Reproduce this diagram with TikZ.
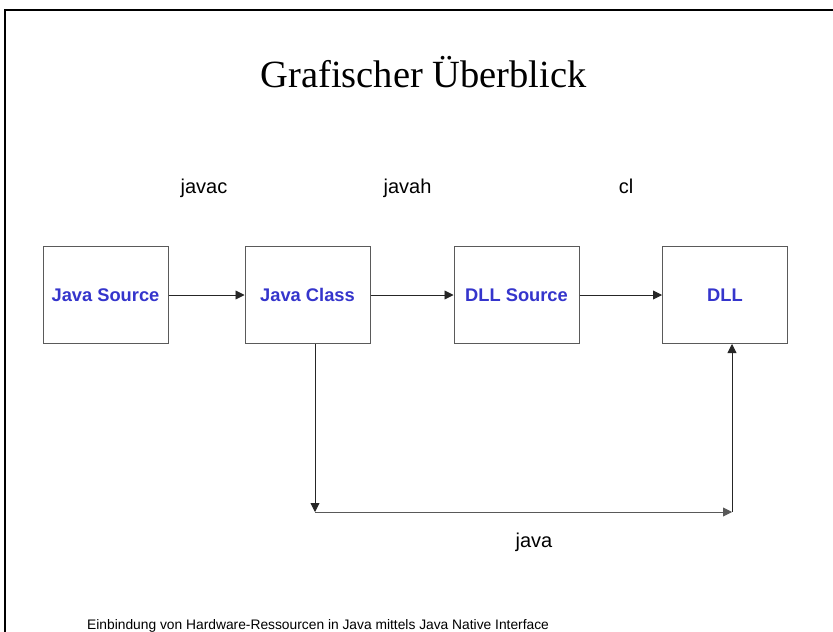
\documentclass[tikz,border=0pt]{standalone}
\usepackage{fontspec}
\setmainfont{Liberation Serif}
\newfontfamily\arial{Liberation Sans}
\usetikzlibrary{arrows.meta,calc}
\definecolor{boxblue}{HTML}{3535CC}
\definecolor{boxgray}{HTML}{5A5A5A}
\begin{document}
\begin{tikzpicture}[x=1pt,y=-1pt,
  box/.style={draw=boxgray,line width=1pt,fill=white,minimum width=125pt,minimum height=97pt,inner sep=0pt,
    font=\arial\bfseries\fontsize{18.3}{21}\selectfont,text=boxblue},
  conn/.style={line width=0.9pt,draw=black!85,-{Triangle[length=9pt,width=9pt]}},
  lbl/.style={anchor=base,inner sep=0pt,font=\arial\fontsize{20}{24}\selectfont}]
\useasboundingbox (0,0) rectangle (833,632);
\fill[white] (0,0) rectangle (833,632);
% frame
\draw[line width=2pt] (5,632) -- (5,10) -- (834,10);
% title
\node[anchor=base,inner sep=0pt,font=\fontsize{38.5}{44}\selectfont] (title) at (423.5,87) {Grafischer Überblick};
% boxes
\node[box] (js) at (105.5,295) {Java Source};
\node[box] (jc) at (307.5,295) {Java Class};
\node[box] (ds) at (516.5,295) {DLL Source};
\node[box] (dll) at (725,295) {DLL};
% labels
\node[lbl] (l1) at (204,193) {javac};
\node[lbl] (l2) at (407.5,193) {javah};
\node[lbl] (l3) at (626,193) {cl};
\node[lbl] (l4) at (534,547) {java};
% arrows
\draw[conn] (js.east) -- (jc.west);
\draw[conn] (jc.east) -- (ds.west);
\draw[conn] (ds.east) -- (dll.west);
\coordinate (c1) at (315,512);
\coordinate (c2) at (732,512);
\draw[conn] (c1 |- jc.south) -- (c1);
\draw[conn,draw=black!65] (c1) -- (c2);
\draw[conn] (c2) -- (c2 |- dll.south);
% footer
\node[anchor=base west,inner sep=0pt,font=\arial\fontsize{13.8}{16}\selectfont] (foot) at (87,629) {Einbindung von Hardware-Ressourcen in Java mittels Java Native Interface};
\end{tikzpicture}
\end{document}
